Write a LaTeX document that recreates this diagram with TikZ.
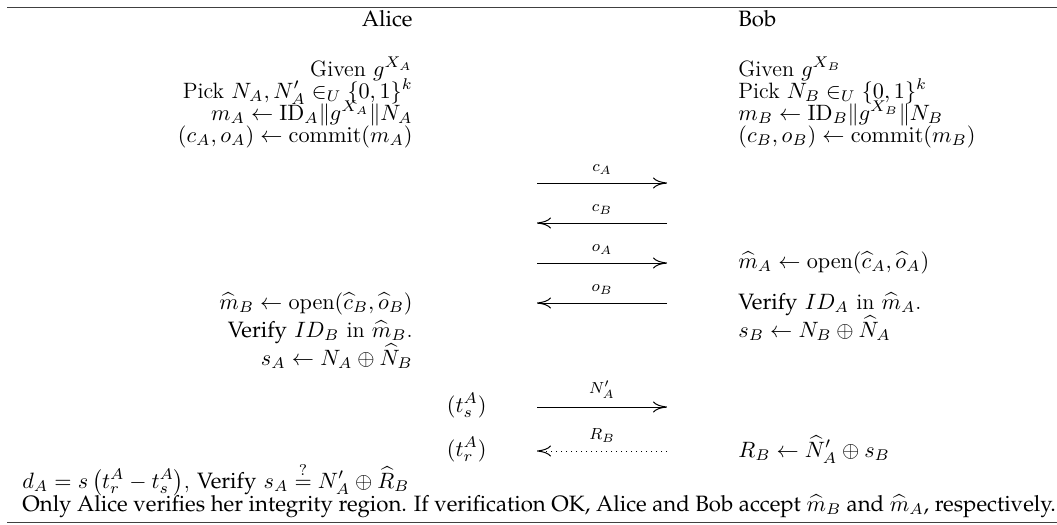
\RequirePackage{fix-cm}
\documentclass[11pt,tikz,border=0pt]{standalone}
\usepackage[T1,TU]{fontenc}
\usepackage{amsmath}
\usepackage{tikz}
\usetikzlibrary{arrows.meta}
\newcommand{\pal}{\fontencoding{T1}\fontfamily{ppl}\selectfont}

\begin{document}
\begin{tikzpicture}[x=0.5pt, y=-0.5pt, inner sep=0pt,
    every node/.style={font=\fontsize{11.1}{13.5}\selectfont},
    >={Computer Modern Rightarrow[length=7pt, width=5.5pt]},
    alice/.style={anchor=base east},
    bob/.style={anchor=base west},
    msg/.style={above=4pt, font=\scriptsize},
    wire/.style={line width=0.5pt}]
  \useasboundingbox (0,0) rectangle (1057,525);
  % rules
  \coordinate (top1) at (7,7);  \coordinate (top2) at (1057,7);
  \coordinate (bot1) at (7,522); \coordinate (bot2) at (1057,522);
  \draw[line width=0.5pt, black!75] (top1) -- (top2);
  \draw[line width=0.5pt, black!75] (bot1) -- (bot2);
  % Alice
  \node[alice] (alice) at (413,26) {\pal Alice};
  \node[alice] (aGiven) at (413,76) {Given $g^{X_A}$};
  \node[alice] (aPick) at (413,98) {Pick $N_A, N'_A \in_U \{0,1\}^k$};
  \node[alice] (aMsg) at (413,120) {$m_A \leftarrow \mathrm{ID}_A \| g^{X_A} \| N_A$};
  \node[alice] (aCommit) at (413,142) {$(c_A, o_A) \leftarrow \mathrm{commit}(m_A)$};
  \node[alice] (aOpen) at (413,309) {$\widehat{m}_B \leftarrow \mathrm{open}(\widehat{c}_B, \widehat{o}_B)$};
  \node[alice] (aVerify) at (413,337) {{\pal Verify} $ID_B$ in $\widehat{m}_B$.};
  \node[alice] (aKey) at (413,365) {$s_A \leftarrow N_A \oplus \widehat{N}_B$};
  \node[alice] (aTs) at (487,412) {$(t_s^A)$};
  \node[alice] (aTr) at (487,456) {$(t_r^A)$};
  % Bob
  \node[bob] (bob) at (738,26) {\pal Bob};
  \node[bob] (bGiven) at (738,76) {Given $g^{X_B}$};
  \node[bob] (bPick) at (738,98) {Pick $N_B \in_U \{0,1\}^k$};
  \node[bob] (bMsg) at (738,120) {$m_B \leftarrow \mathrm{ID}_B \| g^{X_B} \| N_B$};
  \node[bob] (bCommit) at (738,142) {$(c_B, o_B) \leftarrow \mathrm{commit}(m_B)$};
  \node[bob] (bOpen) at (738,268) {$\widehat{m}_A \leftarrow \mathrm{open}(\widehat{c}_A, \widehat{o}_A)$};
  \node[bob] (bVerify) at (738,309) {{\pal Verify} $ID_A$ in $\widehat{m}_A$.};
  \node[bob] (bKey) at (738,337) {$s_B \leftarrow N_B \oplus \widehat{N}_A$};
  \node[bob] (bResp) at (738,457) {$R_B \leftarrow \widehat{N}'_A \oplus s_B$};
  % messages
  \foreach \i/\y/\lab in {1/183/c_A, 3/263/o_A, 5/407/N'_A} {
    \coordinate (l\i) at (537,\y); \coordinate (r\i) at (667,\y);
    \draw[wire, ->] (l\i) -- node[msg] {$\lab$} (r\i);
  }
  \foreach \i/\y/\lab in {2/223/c_B, 4/303/o_B} {
    \coordinate (l\i) at (537,\y); \coordinate (r\i) at (667,\y);
    \draw[wire, ->] (r\i) -- node[msg] {$\lab$} (l\i);
  }
  \coordinate (l6) at (537,451); \coordinate (r6) at (667,451);
  \draw[wire, ->, dotted, shorten >=0pt] (r6) -- node[msg] {$R_B$} (l6);
  % outcome
  \node[anchor=base west] (dist) at (22,488)
    {$d_A = s\left(t_r^A - t_s^A\right)$, {\pal Verify} $s_A \stackrel{?}{=} N'_A \oplus \widehat{R}_B$};
  \node[anchor=base west] (note) at (22,511)
    {\pal Only Alice verifies her integrity region. If verification OK, Alice and Bob accept $\widehat{m}_B$ and $\widehat{m}_A$, respectively.};
\end{tikzpicture}
\end{document}
